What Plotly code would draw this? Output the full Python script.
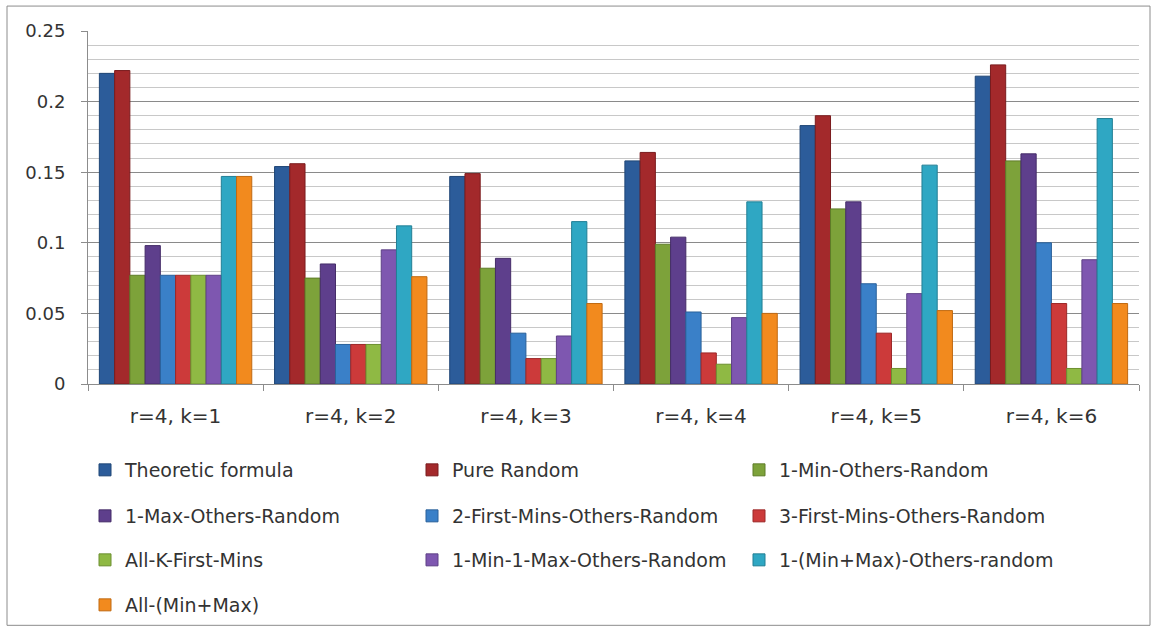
import plotly.graph_objects as go

categories = ["r=4, k=1", "r=4, k=2", "r=4, k=3", "r=4, k=4", "r=4, k=5", "r=4, k=6"]

theoretic_formula = [0.220, 0.154, 0.147, 0.158, 0.183, 0.218]
pure_random = [0.222, 0.156, 0.149, 0.164, 0.190, 0.226]
one_min_others_random = [0.077, 0.075, 0.082, 0.099, 0.124, 0.158]
one_max_others_random = [0.098, 0.085, 0.089, 0.104, 0.129, 0.163]
two_first_mins_others_random = [0.077, 0.028, 0.036, 0.051, 0.071, 0.100]
three_first_mins_others_random = [0.077, 0.028, 0.018, 0.022, 0.036, 0.057]
all_k_first_mins = [0.077, 0.028, 0.018, 0.014, 0.011, 0.011]
one_min_one_max_others_random = [0.077, 0.095, 0.034, 0.047, 0.064, 0.088]
one_minmax_others_random = [0.147, 0.112, 0.115, 0.129, 0.155, 0.188]
all_minmax = [0.147, 0.076, 0.057, 0.050, 0.052, 0.057]

series_names = [
    "Theoretic formula", "Pure Random", "1-Min-Others-Random",
    "1-Max-Others-Random", "2-First-Mins-Others-Random", "3-First-Mins-Others-Random",
    "All-K-First-Mins", "1-Min-1-Max-Others-Random", "1-(Min+Max)-Others-random",
    "All-(Min+Max)",
]
series_values = [
    theoretic_formula, pure_random, one_min_others_random,
    one_max_others_random, two_first_mins_others_random, three_first_mins_others_random,
    all_k_first_mins, one_min_one_max_others_random, one_minmax_others_random,
    all_minmax,
]
series_colors = [
    "#2C5C9A", "#A3292B", "#7DA23A", "#5E3F8C", "#3A80C8",
    "#CC3A3A", "#8FB944", "#7E57B0", "#2FA7C3", "#F28A1E",
]
edge_colors = [
    "#1F4676", "#7A1C1E", "#5E7C28", "#452D68", "#2A619A",
    "#9C2828", "#6C8F30", "#5E4086", "#227F95", "#C06A12",
]

W, H = 1161, 634
L, R, T, B = 88, 1139, 31, 385  # plot area in pixels


def px_x(px):
    return (px - L) / (R - L)


def px_y(py):
    return (B - py) / (B - T)


font_family = "'DejaVu Sans', 'Open Sans', sans-serif"
text_color = "#333333"

fig = go.Figure()
legend_rows = ["legend", "legend2", "legend3", "legend4"]
for i, (name, vals) in enumerate(zip(series_names, series_values)):
    fig.add_trace(go.Bar(
        x=categories, y=vals, name=name,
        marker=dict(color=series_colors[i], line=dict(color=edge_colors[i], width=1)),
        legend=legend_rows[i // 3],
    ))

legend_row_y = [470, 516, 560, 605]
legend_common = dict(
    orientation="h", xanchor="left", yanchor="middle",
    entrywidth=282, entrywidthmode="pixels",
    font=dict(family=font_family, size=19, color=text_color),
    bgcolor="rgba(0,0,0,0)", borderwidth=0, traceorder="normal",
)
legend_layout = {}
for j, key in enumerate(legend_rows):
    legend_layout[key] = dict(legend_common, x=px_x(85), y=px_y(legend_row_y[j]))

fig.update_layout(
    width=W, height=H,
    margin=dict(l=L, r=W - R, t=T, b=H - B, pad=0),
    paper_bgcolor="white", plot_bgcolor="white",
    barmode="group", bargap=0.13, bargroupgap=0,
    font=dict(family=font_family, size=19, color=text_color),
    showlegend=True,
    xaxis=dict(
        showline=True, linecolor="#8C8C8C", linewidth=1,
        ticks="outside", ticklen=6, tickcolor="#8C8C8C",
        tickson="boundaries", showgrid=False,
        tickfont=dict(family=font_family, size=20, color=text_color),
        ticklabelstandoff=14,
    ),
    yaxis=dict(
        range=[0, 0.25], tick0=0,
        tickvals=[0, 0.05, 0.1, 0.15, 0.2, 0.25],
        ticktext=["0", "0.05", "0.1", "0.15", "0.2", "0.25"],
        showline=True, linecolor="#8C8C8C", linewidth=1,
        ticks="outside", ticklen=6, tickcolor="#8C8C8C",
        showgrid=True, gridcolor="#8A8A8A", gridwidth=1,
        zeroline=False,
        minor=dict(dtick=0.01, tick0=0, showgrid=True, gridcolor="#C8C8C8", gridwidth=1),
        tickfont=dict(family=font_family, size=18, color=text_color),
        ticklabelstandoff=12,
    ),
    shapes=[dict(
        type="rect", xref="paper", yref="paper",
        x0=px_x(7), x1=px_x(1150), y0=px_y(627), y1=px_y(6),
        line=dict(color="#8C8C8C", width=1), fillcolor="rgba(0,0,0,0)", layer="below",
    )],
    **legend_layout,
)

fig.write_html("out.html")
